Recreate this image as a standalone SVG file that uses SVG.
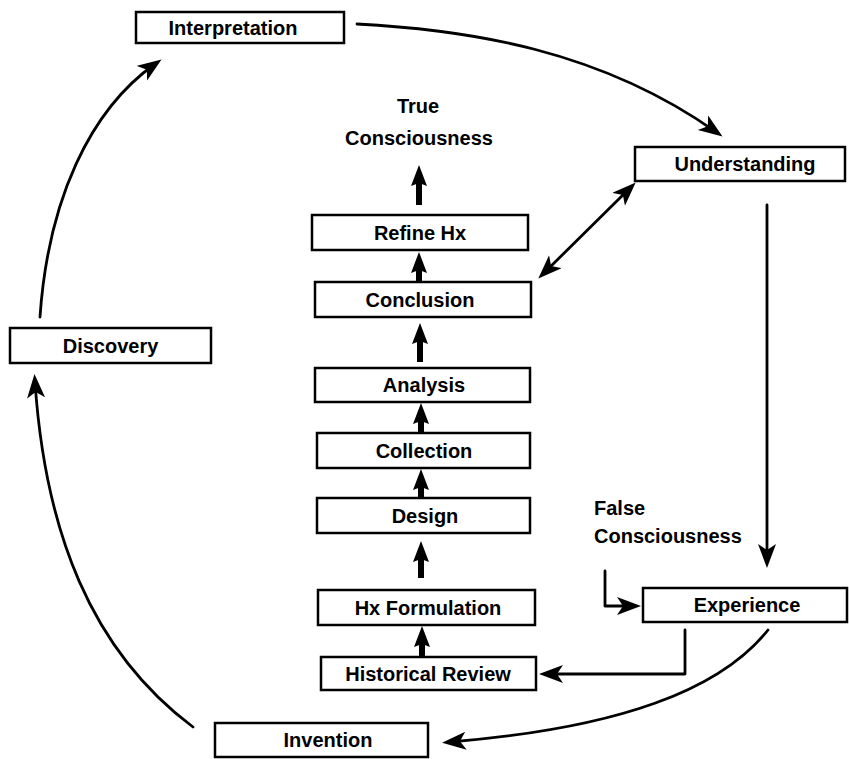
<svg xmlns="http://www.w3.org/2000/svg" width="849" height="759" viewBox="0 0 849 759">
  <style>
    .box { fill: #ffffff; stroke: #000000; stroke-width: 2.5; }
    .lbl { font-family: "Liberation Sans", Arial, sans-serif; font-weight: bold; font-size: 20px; fill: #000000; text-anchor: middle; }
    .note { font-family: "Liberation Sans", Arial, sans-serif; font-weight: bold; font-size: 20px; fill: #000000; }
    .thin { fill: none; stroke: #000000; stroke-width: 2.8; stroke-linecap: round; stroke-linejoin: round; }
    .thick { fill: none; stroke: #000000; stroke-width: 6; }
  </style>
  <defs>
    <marker id="head" markerUnits="userSpaceOnUse" markerWidth="26" markerHeight="20" refX="16" refY="9" orient="auto-start-reverse" viewBox="0 0 26 20">
      <path d="M0,0 L24,9 L0,18 L6,9 Z" fill="#000000"/>
    </marker>
    <marker id="bighead" markerUnits="userSpaceOnUse" markerWidth="22" markerHeight="18" refX="7" refY="8" orient="auto" viewBox="0 0 22 18">
      <path d="M0,0 L21,8 L0,16 L3,8 Z" fill="#000000"/>
    </marker>
  </defs>

  <rect width="849" height="759" fill="#ffffff"/>

  <!-- connectors -->
  <g id="connectors">
    <!-- outer cycle -->
    <path class="thin" d="M357,24 C470,30 600,50 716,132" marker-end="url(#head)"/>
    <path class="thin" d="M767,205 L767,560" marker-end="url(#head)"/>
    <path class="thin" d="M768,630 C720,690 620,728 450,742" marker-end="url(#head)"/>
    <path class="thin" d="M193,727 C90,650 45,530 35,382" marker-end="url(#head)"/>
    <path class="thin" d="M40,317 C48,200 90,110 155,64" marker-end="url(#head)"/>
    <!-- side links -->
    <path class="thin" d="M605,571 L605,606 L633,606" marker-end="url(#head)"/>
    <path class="thin" d="M685,630 L685,674 L547,674" marker-end="url(#head)"/>
    <path class="thin" d="M630,188 L544,273" marker-start="url(#head)" marker-end="url(#head)"/>
    <!-- central column -->
    <path class="thick" d="M419,205 L419,179" marker-end="url(#bighead)"/>
    <path class="thick" d="M419,282 L419,266" marker-end="url(#bighead)"/>
    <path class="thick" d="M420,362 L420,337" marker-end="url(#bighead)"/>
    <path class="thick" d="M421,433 L421,417" marker-end="url(#bighead)"/>
    <path class="thick" d="M421,498 L421,483" marker-end="url(#bighead)"/>
    <path class="thick" d="M421,578 L421,555" marker-end="url(#bighead)"/>
    <path class="thick" d="M422,657 L422,640" marker-end="url(#bighead)"/>
  </g>

  <!-- free labels -->
  <g id="true-consciousness">
    <text class="lbl" x="418" y="113">True</text>
    <text class="lbl" x="419" y="145">Consciousness</text>
  </g>
  <g id="false-consciousness">
    <text class="note" x="594" y="515">False</text>
    <text class="note" x="594" y="543">Consciousness</text>
  </g>

  <!-- outer cycle nodes -->
  <g id="interpretation">
    <rect class="box" x="136" y="12" width="208" height="31"/>
    <text class="lbl" x="233" y="34.5">Interpretation</text>
  </g>
  <g id="understanding">
    <rect class="box" x="635" y="147" width="210" height="34"/>
    <text class="lbl" x="745" y="171">Understanding</text>
  </g>
  <g id="experience">
    <rect class="box" x="643" y="588" width="204" height="34"/>
    <text class="lbl" x="747" y="612">Experience</text>
  </g>
  <g id="invention">
    <rect class="box" x="215" y="723" width="213" height="34"/>
    <text class="lbl" x="328" y="747">Invention</text>
  </g>
  <g id="discovery">
    <rect class="box" x="10" y="328" width="201" height="35"/>
    <text class="lbl" x="110.5" y="352.5">Discovery</text>
  </g>

  <!-- research column nodes -->
  <g id="refine-hx">
    <rect class="box" x="312" y="215" width="216" height="35"/>
    <text class="lbl" x="420" y="239.5">Refine Hx</text>
  </g>
  <g id="conclusion">
    <rect class="box" x="315" y="282" width="216" height="35"/>
    <text class="lbl" x="420" y="306.5">Conclusion</text>
  </g>
  <g id="analysis">
    <rect class="box" x="315" y="368" width="215" height="34"/>
    <text class="lbl" x="424" y="392">Analysis</text>
  </g>
  <g id="collection">
    <rect class="box" x="317" y="433" width="213" height="35"/>
    <text class="lbl" x="424" y="457.5">Collection</text>
  </g>
  <g id="design">
    <rect class="box" x="317" y="498" width="213" height="35"/>
    <text class="lbl" x="425" y="522.5">Design</text>
  </g>
  <g id="hx-formulation">
    <rect class="box" x="318" y="590" width="217" height="35"/>
    <text class="lbl" x="428" y="614.5">Hx Formulation</text>
  </g>
  <g id="historical-review">
    <rect class="box" x="321" y="657" width="215" height="33"/>
    <text class="lbl" x="428" y="680.5">Historical Review</text>
  </g>
</svg>
